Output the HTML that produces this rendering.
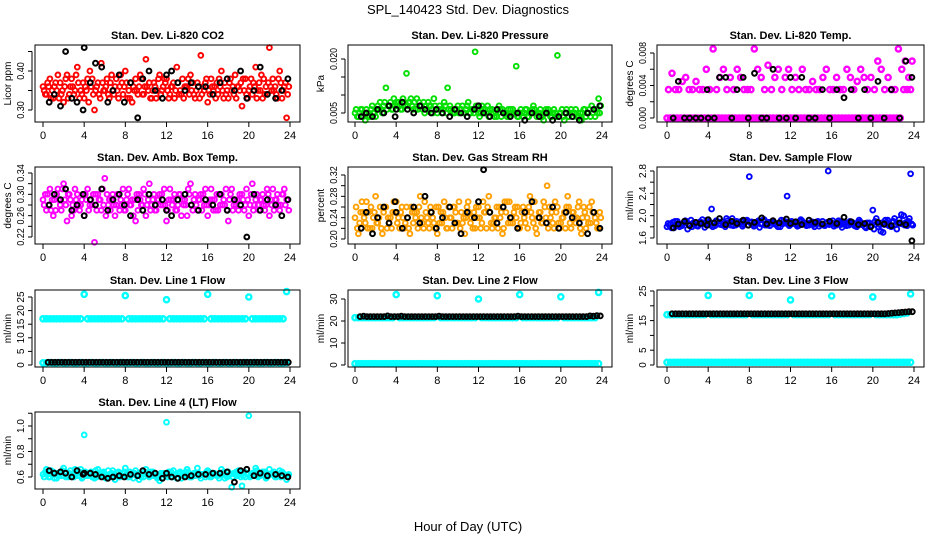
<!DOCTYPE html>
<html><head><meta charset="utf-8">
<style>
html,body{margin:0;padding:0;background:#fff;}
svg{display:block;font-family:"Liberation Sans",sans-serif;}
</style></head>
<body>
<svg id="chart" width="936" height="540" viewBox="0 0 936 540">
<text x="468" y="14" text-anchor="middle" font-size="13">SPL_140423  Std. Dev. Diagnostics</text>
<text x="468" y="531" text-anchor="middle" font-size="13">Hour of Day (UTC)</text>
</svg>
<script>
const hourTicks=[0,4,8,12,16,20,24];
const blackHours=[0.6,1.1,1.7,2.2,2.8,3.3,3.9,4.0,4.6,5.1,5.7,6.3,6.8,7.4,7.9,8.5,9.2,9.7,10.3,10.9,11.6,12.0,12.5,13.1,13.8,14.4,15.1,15.8,16.5,17.2,17.9,18.6,19.2,19.8,20.5,21.1,21.8,22.6,23.2,23.8];
const co2Main=[0.36,0.34,0.38,0.33,0.35,0.37,0.32,0.39,0.36,0.34,0.41,0.35,0.33,0.38,0.36,0.30,0.37,0.42,0.35,0.34,0.39,0.36,0.33,0.37,0.40,0.35,0.32,0.38,0.36,0.34,0.43,0.37,0.35,0.33,0.39,0.36,0.38,0.34,0.37,0.41,0.35,0.33,0.36,0.39,0.34,0.37,0.44,0.35,0.32,0.38,0.36,0.34,0.40,0.37,0.33,0.35,0.39,0.36,0.31,0.38,0.35,0.34,0.41,0.37,0.33,0.36,0.46,0.38,0.34,0.40,0.35,0.28];
const co2Extra=[0.35,0.37,0.33,0.36,0.39,0.34,0.36,0.33,0.38,0.35,0.37,0.34,0.36,0.32,0.38,0.35,0.34,0.37,0.36,0.33,0.35,0.38,0.36,0.34,0.37,0.33,0.36,0.35,0.39,0.34,0.36,0.33,0.37,0.35,0.34,0.38,0.35,0.36,0.33,0.37,0.34,0.36,0.38,0.35,0.33,0.36,0.34,0.37,0.35,0.36,0.33,0.38,0.35,0.34,0.37,0.36,0.33,0.35,0.38,0.34,0.36,0.37,0.33,0.35,0.38,0.34,0.36,0.35,0.33,0.37,0.36,0.34];
const co2Third=[0.34,0.36,0.35,0.37,0.33,0.35,0.38,0.34,0.36,0.39,0.33,0.37,0.35,0.40,0.34,0.36,0.33,0.35,0.38,0.37,0.34,0.35,0.39,0.36,0.33,0.37,0.35,0.34,0.38,0.36,0.35,0.33,0.36,0.38,0.35,0.37,0.33,0.36,0.35,0.34,0.38,0.36,0.34,0.37,0.35,0.33,0.36,0.38,0.34,0.35,0.37,0.36,0.33,0.35,0.38,0.34,0.36,0.37,0.35,0.33,0.38,0.36,0.35,0.39,0.34,0.37,0.35,0.36,0.38,0.33,0.37,0.36];
const co2Black=[0.32,0.34,0.31,0.45,0.33,0.32,0.30,0.46,0.37,0.42,0.41,0.32,0.35,0.39,0.32,0.37,0.28,0.38,0.40,0.35,0.33,0.39,0.40,0.37,0.35,0.37,0.36,0.36,0.34,0.37,0.38,0.35,0.40,0.33,0.35,0.41,0.34,0.33,0.35,0.38];
const presMain=[0.005,0.004,0.006,0.003,0.005,0.007,0.004,0.006,0.005,0.012,0.007,0.006,0.008,0.007,0.009,0.016,0.008,0.006,0.009,0.007,0.008,0.006,0.007,0.009,0.005,0.006,0.008,0.012,0.006,0.005,0.007,0.006,0.005,0.008,0.006,0.022,0.005,0.007,0.006,0.004,0.006,0.005,0.007,0.006,0.005,0.004,0.006,0.018,0.005,0.004,0.006,0.005,0.007,0.004,0.006,0.003,0.005,0.004,0.006,0.021,0.005,0.003,0.004,0.006,0.005,0.004,0.003,0.006,0.005,0.007,0.004,0.009];
const presExtra=[0.006,0.005,0.004,0.006,0.004,0.005,0.006,0.008,0.007,0.006,0.008,0.009,0.007,0.006,0.008,0.007,0.009,0.008,0.006,0.007,0.005,0.008,0.006,0.007,0.006,0.005,0.007,0.006,0.005,0.006,0.005,0.007,0.006,0.005,0.006,0.007,0.004,0.006,0.005,0.006,0.005,0.004,0.006,0.005,0.004,0.006,0.005,0.004,0.006,0.005,0.004,0.005,0.006,0.005,0.004,0.005,0.006,0.004,0.005,0.004,0.006,0.005,0.004,0.005,0.006,0.004,0.005,0.004,0.006,0.005,0.006,0.005];
const presThird=[0.004,0.006,0.005,0.004,0.006,0.005,0.007,0.006,0.008,0.007,0.006,0.007,0.008,0.006,0.007,0.008,0.007,0.006,0.008,0.006,0.007,0.007,0.005,0.006,0.007,0.006,0.005,0.007,0.005,0.006,0.006,0.005,0.007,0.005,0.005,0.006,0.005,0.005,0.007,0.005,0.004,0.006,0.004,0.005,0.006,0.005,0.005,0.004,0.005,0.006,0.004,0.006,0.005,0.005,0.004,0.006,0.005,0.005,0.004,0.005,0.004,0.006,0.005,0.004,0.004,0.005,0.006,0.005,0.004,0.006,0.005,0.007];
const presBlack=[0.004,0.005,0.004,0.006,0.005,0.007,0.004,0.006,0.008,0.006,0.005,0.007,0.006,0.005,0.006,0.005,0.004,0.006,0.005,0.004,0.006,0.007,0.005,0.004,0.006,0.005,0.004,0.005,0.003,0.005,0.004,0.005,0.003,0.004,0.005,0.004,0.003,0.005,0.006,0.007];
const tempLow=[0,0,0,0,0,0,0,0,0,0,0,0,0,0,0,0,0,0,0,0,0,0,0,0,0,0,0,0,0,0,0,0,0,0,0,0,0,0,0,0,0,0,0,0,0,0,0,0,0,0,0,0,0,0,0,0,0,0,0,0,0,0,0,0,0,0,0,0,0,0.0035,0.0035,0.0035];
const tempHigh=[0.0035,0.0055,0.0035,0.0035,0.0045,0.005,0.0035,0.0035,0.0045,0.0035,0.0035,0.006,0.0035,0.0085,0.0035,0.005,0.006,0.0035,0.005,0.0035,0.006,0.005,0.0035,0.0035,0.0035,0.0085,0.006,0.005,0.0035,0.0065,0.0035,0.005,0.006,0.0035,0.005,0.006,0.0035,0.005,0.0035,0.006,0.0035,0.0035,0.0045,0.0035,0.0035,0.005,0.006,0.0035,0.0035,0.005,0.0035,0.0035,0.006,0.005,0.0035,0.0045,0.006,0.005,0.0035,0.005,0.0035,0.007,0.006,0.0035,0.005,0.0035,0.0035,0.0085,0.006,0.007,0.005,0.007];
const tempBlack=[0,0.0045,0,0,0,0,0.0035,0,0,0.005,0.005,0,0.0035,0.005,0,0.0055,0,0,0.006,0,0,0.005,0,0.005,0,0,0.0035,0,0.0035,0.0025,0.0035,0,0.0035,0,0.0045,0,0.0035,0,0.007,0.005];
const ambMain=[0.29,0.27,0.31,0.26,0.30,0.28,0.32,0.25,0.29,0.27,0.30,0.28,0.26,0.31,0.29,0.21,0.30,0.27,0.33,0.28,0.29,0.26,0.30,0.28,0.27,0.31,0.29,0.25,0.30,0.28,0.26,0.32,0.29,0.27,0.30,0.28,0.25,0.31,0.29,0.27,0.30,0.28,0.26,0.32,0.29,0.27,0.30,0.28,0.26,0.31,0.29,0.27,0.30,0.28,0.25,0.31,0.29,0.27,0.30,0.28,0.26,0.32,0.29,0.27,0.30,0.28,0.26,0.31,0.29,0.27,0.30,0.29];
const ambExtra=[0.28,0.30,0.27,0.29,0.31,0.27,0.29,0.30,0.26,0.31,0.28,0.29,0.30,0.27,0.28,0.30,0.29,0.31,0.26,0.29,0.30,0.28,0.27,0.31,0.29,0.28,0.26,0.30,0.29,0.31,0.28,0.27,0.30,0.29,0.28,0.31,0.27,0.29,0.30,0.28,0.26,0.29,0.31,0.28,0.30,0.29,0.27,0.31,0.28,0.29,0.27,0.30,0.28,0.31,0.29,0.27,0.28,0.30,0.29,0.31,0.28,0.27,0.30,0.29,0.28,0.31,0.29,0.27,0.30,0.28,0.31,0.29];
const ambThird=[0.30,0.28,0.29,0.27,0.29,0.31,0.28,0.30,0.28,0.29,0.27,0.30,0.29,0.28,0.30,0.27,0.29,0.28,0.30,0.27,0.28,0.30,0.29,0.27,0.30,0.28,0.29,0.27,0.28,0.30,0.29,0.28,0.27,0.29,0.30,0.28,0.29,0.28,0.27,0.30,0.29,0.28,0.30,0.27,0.28,0.29,0.30,0.28,0.29,0.27,0.30,0.28,0.29,0.27,0.30,0.28,0.29,0.28,0.27,0.29,0.30,0.28,0.28,0.29,0.27,0.30,0.28,0.29,0.28,0.30,0.28,0.27];
const ambBlack=[0.28,0.30,0.29,0.31,0.27,0.28,0.30,0.26,0.29,0.28,0.31,0.27,0.29,0.30,0.28,0.26,0.29,0.27,0.30,0.28,0.29,0.27,0.26,0.29,0.30,0.28,0.27,0.29,0.28,0.30,0.27,0.29,0.28,0.22,0.30,0.27,0.29,0.28,0.26,0.29];
const rhMain=[0.24,0.21,0.27,0.23,0.25,0.22,0.28,0.24,0.21,0.26,0.23,0.25,0.27,0.22,0.24,0.26,0.21,0.23,0.25,0.28,0.22,0.24,0.26,0.23,0.21,0.25,0.27,0.22,0.24,0.26,0.23,0.25,0.21,0.27,0.24,0.22,0.26,0.23,0.25,0.28,0.22,0.24,0.26,0.21,0.25,0.27,0.23,0.24,0.22,0.26,0.25,0.28,0.23,0.21,0.25,0.27,0.30,0.24,0.22,0.26,0.23,0.25,0.28,0.22,0.24,0.26,0.21,0.25,0.23,0.27,0.24,0.22];
const rhExtra=[0.26,0.23,0.25,0.27,0.22,0.24,0.23,0.26,0.25,0.22,0.24,0.27,0.23,0.25,0.22,0.24,0.26,0.25,0.22,0.24,0.27,0.23,0.25,0.22,0.26,0.23,0.24,0.26,0.22,0.25,0.27,0.23,0.24,0.25,0.22,0.26,0.24,0.27,0.22,0.25,0.23,0.26,0.24,0.22,0.27,0.23,0.25,0.26,0.23,0.24,0.22,0.25,0.27,0.24,0.23,0.26,0.22,0.25,0.27,0.23,0.24,0.22,0.26,0.25,0.23,0.27,0.24,0.22,0.26,0.25,0.23,0.25];
const rhThird=[0.22,0.25,0.24,0.22,0.26,0.25,0.23,0.22,0.26,0.24,0.22,0.25,0.24,0.26,0.23,0.22,0.25,0.24,0.26,0.23,0.25,0.22,0.24,0.26,0.23,0.25,0.22,0.24,0.26,0.23,0.22,0.24,0.26,0.23,0.25,0.24,0.22,0.25,0.26,0.23,0.24,0.22,0.25,0.27,0.23,0.24,0.26,0.22,0.25,0.23,0.26,0.24,0.22,0.25,0.23,0.24,0.26,0.23,0.25,0.22,0.24,0.26,0.23,0.25,0.24,0.22,0.26,0.24,0.23,0.25,0.22,0.24];
const rhBlack=[0.22,0.25,0.21,0.24,0.26,0.23,0.27,0.25,0.22,0.24,0.26,0.23,0.28,0.25,0.22,0.24,0.26,0.23,0.21,0.25,0.24,0.27,0.33,0.25,0.23,0.26,0.24,0.22,0.25,0.27,0.24,0.23,0.26,0.22,0.25,0.24,0.23,0.21,0.25,0.22];
const flowMain=[1.80,1.85,1.78,1.90,1.83,1.87,1.76,1.92,1.84,1.81,1.88,1.79,1.86,2.12,1.82,1.85,1.89,1.80,1.87,1.95,1.83,1.86,1.81,1.90,2.70,1.84,1.88,1.79,1.92,1.85,1.82,1.89,1.86,1.80,1.91,2.35,1.84,1.87,1.81,1.93,1.86,1.83,1.88,1.80,1.90,1.85,1.82,2.80,1.87,1.84,1.91,1.79,1.86,1.83,1.88,1.81,1.92,1.85,1.78,1.87,2.10,1.95,1.84,1.70,1.88,1.83,1.90,1.76,1.86,2.00,1.82,2.75];
const flowExtra=[1.86,1.78,1.90,1.84,1.82,1.91,1.85,1.80,1.88,1.86,1.93,1.84,1.89,1.80,1.91,1.86,1.83,1.95,1.88,1.82,1.90,1.86,1.84,1.92,1.87,1.81,1.89,1.85,1.93,1.83,1.88,1.86,1.80,1.92,1.87,1.84,1.90,1.85,1.82,1.91,1.86,1.83,1.89,1.85,1.81,1.90,1.86,1.84,1.91,1.83,1.88,1.85,1.82,1.90,1.86,1.80,1.89,1.84,1.87,1.82,1.76,1.88,1.72,1.84,1.92,1.80,1.95,1.86,2.02,1.83,1.90,1.85];
const flowThird=[1.83,1.88,1.84,1.80,1.86,1.90,1.83,1.87,1.82,1.89,1.85,1.92,1.83,1.87,1.90,1.84,1.86,1.91,1.83,1.88,1.85,1.90,1.87,1.83,1.89,1.85,1.91,1.86,1.83,1.88,1.90,1.84,1.87,1.85,1.89,1.82,1.88,1.84,1.90,1.86,1.82,1.87,1.84,1.89,1.85,1.83,1.88,1.86,1.81,1.87,1.84,1.89,1.83,1.86,1.82,1.88,1.84,1.80,1.86,1.83,1.90,1.80,1.87,1.92,1.82,1.89,1.84,1.93,1.85,1.88,1.95,1.83];
const flowBlack=[1.78,1.85,1.90,1.82,1.88,1.86,1.83,1.93,1.87,1.95,1.84,1.90,1.86,1.92,1.83,1.88,1.96,1.85,1.91,1.87,1.94,1.86,1.89,1.84,1.92,1.88,1.85,1.90,1.86,1.97,1.89,1.84,1.86,1.80,1.88,1.85,1.82,1.87,1.84,1.55];
const line1High=[17,17,17,17,17,17,17,17,17,17,17,17,26,17,17,17,17,17,17,17,17,17,17,17,25.5,17,17,17,17,17,17,17,17,17,17,17,24,17,17,17,17,17,17,17,17,17,17,17,26,17,17,17,17,17,17,17,17,17,17,17,25,17,17,17,17,17,17,17,17,17,17,27];
const line1Low=[0.8,0.8,0.9,0.8,0.8,0.9,0.8,0.8,0.9,0.8,0.8,0.9,0.8,0.8,0.9,0.8,0.8,0.9,0.8,0.8,0.9,0.8,0.8,0.9,0.8,0.8,0.9,0.8,0.8,0.9,0.8,0.8,0.9,0.8,0.8,0.9,0.8,0.8,0.9,0.8,0.8,0.9,0.8,0.8,0.9,0.8,0.8,0.9,0.8,0.8,0.9,0.8,0.8,0.9,0.8,0.8,0.9,0.8,0.8,0.9,0.8,0.8,0.9,0.8,0.8,0.9,0.8,0.8,0.9,0.8,0.8,0.9];
const line1Black=[1,1,1,1,1,1,1,1,1,1,1,1,1,1,1,1,1,1,1,1,1,1,1,1,1,1,1,1,1,1,1,1,1,1,1,1,1,1,1,1,1,1,1,1,1,1,1,1,1,1,1,1,1,1,1,1,1,1,1,1,1,1,1,1,1,1,1,1,1,1,1];
const line2High=[21.5,21.5,21.5,21.5,21.5,21.5,21.5,21.5,21.5,21.5,21.5,21.5,32,21.5,21.5,21.5,21.5,21.5,21.5,21.5,21.5,21.5,21.5,21.5,31.5,21.5,21.5,21.5,21.5,21.5,21.5,21.5,21.5,21.5,21.5,21.5,30,21.5,21.5,21.5,21.5,21.5,21.5,21.5,21.5,21.5,21.5,21.5,32,21.5,21.5,21.5,21.5,21.5,21.5,21.5,21.5,21.5,21.5,21.5,31,21.5,21.5,21.5,21.5,21.5,21.5,21.5,21.5,21.5,21.5,33];
const line2Low=[0.6,0.6,0.6,0.6,0.6,0.6,0.6,0.6,0.6,0.6,0.6,0.6,0.6,0.6,0.6,0.6,0.6,0.6,0.6,0.6,0.6,0.6,0.6,0.6,0.6,0.6,0.6,0.6,0.6,0.6,0.6,0.6,0.6,0.6,0.6,0.6,0.6,0.6,0.6,0.6,0.6,0.6,0.6,0.6,0.6,0.6,0.6,0.6,0.6,0.6,0.6,0.6,0.6,0.6,0.6,0.6,0.6,0.6,0.6,0.6,0.6,0.6,0.6,0.6,0.6,0.6,0.6,0.6,0.6,0.6,0.6,0.6];
const line2Black=[22,22.2,22,22,22,22,22,22,22.3,22,22,22,22.2,22,22,22,22,22,22,22,22,22,22,22.2,22,22,22,22,22,22,22,22,22,22,22,22,22,22,22,22,22,22,22,22,22,22,22.2,22,22,22,22,22,22,22,22,22,22,22,22,22,22,22,22,22,22,22,22,22.3,22.2,22.4,22.3];
const line3High=[17,17,17,17,17,17,17,17,17,17,17,17,23.5,17,17,17,17,17,17,17,17,17,17,17,23.5,17,17,17,17,17,17,17,17,17,17,17,22,17,17,17,17,17,17,17,17,17,17,17,23.3,17,17,17,17,17,17,17,17,17,17,17,23,17,17,17,17,17,17,17,17.2,17.4,17.6,24];
const line3Low=[0.9,0.9,0.9,0.9,0.9,0.9,0.9,0.9,0.9,0.9,0.9,0.9,0.9,0.9,0.9,0.9,0.9,0.9,0.9,0.9,0.9,0.9,0.9,0.9,0.9,0.9,0.9,0.9,0.9,0.9,0.9,0.9,0.9,0.9,0.9,0.9,0.9,0.9,0.9,0.9,0.9,0.9,0.9,0.9,0.9,0.9,0.9,0.9,0.9,0.9,0.9,0.9,0.9,0.9,0.9,0.9,0.9,0.9,0.9,0.9,0.9,0.9,0.9,0.9,0.9,0.9,0.9,0.9,0.9,0.9,0.9,0.9];
const line3Black=[17.3,17.3,17.3,17.3,17.3,17.3,17.3,17.3,17.3,17.3,17.3,17.3,17.3,17.3,17.3,17.3,17.3,17.3,17.3,17.3,17.3,17.3,17.3,17.3,17.3,17.3,17.3,17.3,17.3,17.3,17.3,17.3,17.3,17.3,17.3,17.3,17.3,17.3,17.3,17.3,17.3,17.3,17.3,17.3,17.3,17.3,17.3,17.3,17.3,17.3,17.3,17.3,17.3,17.3,17.3,17.3,17.3,17.3,17.3,17.3,17.3,17.3,17.3,17.4,17.5,17.6,17.7,17.8,17.9,18,18];
const line4Main=[0.62,0.66,0.60,0.64,0.59,0.63,0.67,0.61,0.65,0.60,0.63,0.66,0.93,0.61,0.64,0.59,0.66,0.62,0.60,0.65,0.63,0.58,0.64,0.61,0.67,0.60,0.63,0.65,0.58,0.62,0.66,0.60,0.64,0.61,0.57,0.63,1.03,0.62,0.65,0.59,0.64,0.61,0.66,0.60,0.63,0.67,0.59,0.62,0.65,0.60,0.63,0.61,0.66,0.59,0.64,0.52,0.62,0.65,0.53,0.60,1.08,0.63,0.67,0.61,0.64,0.59,0.66,0.62,0.60,0.65,0.63,0.58];
const line4Extra=[0.60,0.62,0.65,0.59,0.63,0.61,0.64,0.60,0.62,0.66,0.61,0.59,0.64,0.62,0.60,0.65,0.61,0.63,0.59,0.62,0.65,0.61,0.60,0.63,0.62,0.64,0.59,0.61,0.63,0.60,0.62,0.64,0.61,0.59,0.63,0.62,0.60,0.64,0.61,0.63,0.59,0.62,0.64,0.60,0.61,0.63,0.62,0.60,0.64,0.61,0.62,0.59,0.63,0.61,0.62,0.60,0.64,0.62,0.61,0.63,0.60,0.62,0.65,0.61,0.63,0.60,0.62,0.64,0.61,0.60,0.62,0.61];
const line4Third=[0.64,0.60,0.62,0.63,0.61,0.65,0.60,0.63,0.61,0.62,0.64,0.60,0.62,0.63,0.61,0.60,0.63,0.64,0.61,0.62,0.60,0.63,0.62,0.64,0.60,0.61,0.63,0.62,0.60,0.64,0.61,0.62,0.63,0.60,0.62,0.61,0.64,0.60,0.62,0.63,0.61,0.64,0.60,0.62,0.63,0.61,0.62,0.64,0.60,0.63,0.61,0.62,0.64,0.60,0.62,0.63,0.61,0.60,0.64,0.62,0.61,0.63,0.60,0.62,0.64,0.61,0.63,0.60,0.62,0.64,0.61,0.62];
const line4Black=[0.65,0.63,0.64,0.63,0.60,0.65,0.62,0.63,0.63,0.62,0.60,0.59,0.60,0.61,0.60,0.62,0.61,0.65,0.62,0.63,0.59,0.63,0.60,0.59,0.60,0.61,0.62,0.62,0.63,0.63,0.64,0.56,0.65,0.66,0.61,0.63,0.61,0.62,0.61,0.60];

const NS="http://www.w3.org/2000/svg";
const svg=document.getElementById('chart');
function mk(tag,attrs,parent){const e=document.createElementNS(NS,tag);for(const k in attrs)e.setAttribute(k,attrs[k]);(parent||svg).appendChild(e);return e;}
const cols=[{l:35,r:300,x0:43,x24:290},{l:348,r:612,x0:355,x24:602},{l:657,r:924,x0:667,x24:914}];
const rows=[{t:45,b:122},{t:167,b:244},{t:290,b:367},{t:412,b:489}];
const CLR={red:'#ff0000',green:'#00e000',mag:'#ff00ff',orange:'#ffa000',blue:'#0000ff',cyan:'#00ffff',black:'#000000'};

function panel(p){
  const c=cols[p.col],rw=rows[p.row];
  const g=mk('g',{});
  
  
  const xs=h=>c.x0+(c.x24-c.x0)*h/24;
  const ys=v=>p.py0+(p.py1-p.py0)*(v-p.v0)/(p.v1-p.v0);
  const t=mk('text',{x:(c.l+c.r)/2,y:rw.t-6,'text-anchor':'middle','font-size':'11','font-weight':'bold'},g);
  t.textContent=p.title;
  
  
  p.series.forEach(s=>{
    const isBlack=s.color===CLR.black;
    const sg=mk('g',{fill:'none',stroke:s.color,'stroke-width':isBlack?'2':(s.band?'2.4':'1.9')},g);
    
    
    s.values.forEach((v,i)=>{
      const h=s.hours?s.hours[i]:(s.start||0)+i*(s.step||1/3);
      const ci=mk('circle',{cx:xs(h).toFixed(1),cy:ys(v).toFixed(1),r:s.band?'2.6':'2.4'},sg);
      
      
    });
  });
  const box=mk('rect',{x:c.l,y:rw.t,width:c.r-c.l,height:rw.b-rw.t,fill:'none',stroke:'#000','stroke-width':'1'},g);
  
  
  const xa=mk('g',{},g);
  
  
  mk('line',{x1:xs(0),x2:xs(24),y1:rw.b,y2:rw.b,stroke:'#000'},xa);
  hourTicks.forEach(h=>{
    mk('line',{x1:xs(h),x2:xs(h),y1:rw.b,y2:rw.b+5,stroke:'#000'},xa);
    const tx=mk('text',{x:xs(h),y:rw.b+17,'text-anchor':'middle','font-size':'11'},xa);
    tx.textContent=h;
    
    
  });
  const ya=mk('g',{},g);
  
  
  const ax=c.l-3;
  mk('line',{x1:ax,x2:ax,y1:ys(p.ticks[0]),y2:ys(p.ticks[p.ticks.length-1]),stroke:'#000'},ya);
  p.ticks.forEach(v=>{mk('line',{x1:ax-4,x2:ax,y1:ys(v),y2:ys(v),stroke:'#000'},ya);});
  p.labels.forEach(v=>{
    const y=ys(v);
    const s=v.toFixed(p.dec);
    const tx=mk('text',{x:ax-8,y:y,'text-anchor':'middle','font-size':'10',transform:`rotate(-90 ${ax-8} ${y})`},ya);
    if(s.length>=4){tx.setAttribute('textLength',s.length*4.4);tx.setAttribute('lengthAdjust','spacingAndGlyphs');}
    tx.textContent=s;
    
    
  });
  const my=(rw.t+rw.b)/2;
  const yl=mk('text',{x:c.l-24,y:my,'text-anchor':'middle','font-size':'10',transform:`rotate(-90 ${c.l-24} ${my})`},g);
  yl.textContent=p.ylab;
  
  
}

panel({name:'panel-co2',col:0,row:0,title:'Stan. Dev. Li-820 CO2',ylab:'Licor ppm',v0:0.30,v1:0.40,py0:110,py1:71,ticks:[0.30,0.35,0.40,0.45],labels:[0.30,0.40],dec:2,
  series:[{name:'co2-series',color:CLR.red,values:co2Main},{name:'co2-series-2',color:CLR.red,values:co2Extra,start:0.11},{name:'co2-series-3',color:CLR.red,values:co2Third,start:0.22},{name:'co2-black',color:CLR.black,values:co2Black,hours:blackHours}]});
panel({name:'panel-pressure',col:1,row:0,title:'Stan. Dev. Li-820 Pressure',ylab:'kPa',v0:0.005,v1:0.020,py0:113,py1:59,ticks:[0.005,0.010,0.015,0.020],labels:[0.005,0.020],dec:3,
  series:[{name:'pressure-series',color:CLR.green,values:presMain},{name:'pressure-series-2',color:CLR.green,values:presExtra,start:0.11},{name:'pressure-series-3',color:CLR.green,values:presThird,start:0.22},{name:'pressure-black',color:CLR.black,values:presBlack,hours:blackHours}]});
panel({name:'panel-temp',col:2,row:0,title:'Stan. Dev. Li-820 Temp.',ylab:'degrees C',v0:0,v1:0.008,py0:118,py1:53,ticks:[0,0.002,0.004,0.006,0.008],labels:[0,0.004,0.008],dec:3,
  series:[{name:'temp-low-series',color:CLR.mag,values:tempLow,band:true},{name:'temp-high-series',color:CLR.mag,values:tempHigh,start:0.15,band:true},{name:'temp-black',color:CLR.black,values:tempBlack,hours:blackHours}]});
panel({name:'panel-amb-box',col:0,row:1,title:'Stan. Dev. Amb. Box Temp.',ylab:'degrees C',v0:0.22,v1:0.34,py0:237,py1:173,ticks:[0.22,0.24,0.26,0.28,0.30,0.32,0.34],labels:[0.22,0.26,0.30,0.34],dec:2,
  series:[{name:'amb-series',color:CLR.mag,values:ambMain},{name:'amb-series-2',color:CLR.mag,values:ambExtra,start:0.11},{name:'amb-series-3',color:CLR.mag,values:ambThird,start:0.22},{name:'amb-black',color:CLR.black,values:ambBlack,hours:blackHours}]});
panel({name:'panel-rh',col:1,row:1,title:'Stan. Dev. Gas Stream RH',ylab:'percent',v0:0.20,v1:0.32,py0:239,py1:175,ticks:[0.20,0.22,0.24,0.26,0.28,0.30,0.32],labels:[0.20,0.24,0.28,0.32],dec:2,
  series:[{name:'rh-series',color:CLR.orange,values:rhMain},{name:'rh-series-2',color:CLR.orange,values:rhExtra,start:0.11},{name:'rh-series-3',color:CLR.orange,values:rhThird,start:0.22},{name:'rh-black',color:CLR.black,values:rhBlack,hours:blackHours}]});
panel({name:'panel-sample-flow',col:2,row:1,title:'Stan. Dev. Sample Flow',ylab:'ml/min',v0:1.6,v1:2.8,py0:238,py1:171,ticks:[1.6,1.8,2.0,2.2,2.4,2.6,2.8],labels:[1.6,2.0,2.4,2.8],dec:1,
  series:[{name:'flow-series',color:CLR.blue,values:flowMain},{name:'flow-series-2',color:CLR.blue,values:flowExtra,start:0.11},{name:'flow-series-3',color:CLR.blue,values:flowThird,start:0.22},{name:'flow-black',color:CLR.black,values:flowBlack,hours:blackHours}]});
panel({name:'panel-line1',col:0,row:2,title:'Stan. Dev. Line 1 Flow',ylab:'ml/min',v0:0,v1:25,py0:365,py1:297,ticks:[0,5,10,15,20,25],labels:[0,5,10,15,20,25],dec:0,
  series:[{name:'line1-high',color:CLR.cyan,values:line1High,band:true},{name:'line1-low',color:CLR.cyan,values:line1Low,band:true},{name:'line1-black',color:CLR.black,values:line1Black,start:0.5}]});
panel({name:'panel-line2',col:1,row:2,title:'Stan. Dev. Line 2 Flow',ylab:'ml/min',v0:0,v1:30,py0:365,py1:299,ticks:[0,10,20,30],labels:[0,10,20,30],dec:0,
  series:[{name:'line2-high',color:CLR.cyan,values:line2High,band:true},{name:'line2-low',color:CLR.cyan,values:line2Low,band:true},{name:'line2-black',color:CLR.black,values:line2Black,start:0.5}]});
panel({name:'panel-line3',col:2,row:2,title:'Stan. Dev. Line 3 Flow',ylab:'ml/min',v0:0,v1:25,py0:365,py1:291,ticks:[0,5,10,15,20,25],labels:[0,5,15,25],dec:0,
  series:[{name:'line3-high',color:CLR.cyan,values:line3High,band:true},{name:'line3-low',color:CLR.cyan,values:line3Low,band:true},{name:'line3-black',color:CLR.black,values:line3Black,start:0.5}]});
panel({name:'panel-line4',col:0,row:3,title:'Stan. Dev. Line 4 (LT) Flow',ylab:'ml/min',v0:0.6,v1:1.0,py0:477,py1:426,ticks:[0.6,0.7,0.8,0.9,1.0,1.1],labels:[0.6,0.8,1.0],dec:1,
  series:[{name:'line4-series',color:CLR.cyan,values:line4Main},{name:'line4-series-2',color:CLR.cyan,values:line4Extra,start:0.11},{name:'line4-series-3',color:CLR.cyan,values:line4Third,start:0.22},{name:'line4-black',color:CLR.black,values:line4Black,hours:blackHours}]});
</script>
</body></html>
